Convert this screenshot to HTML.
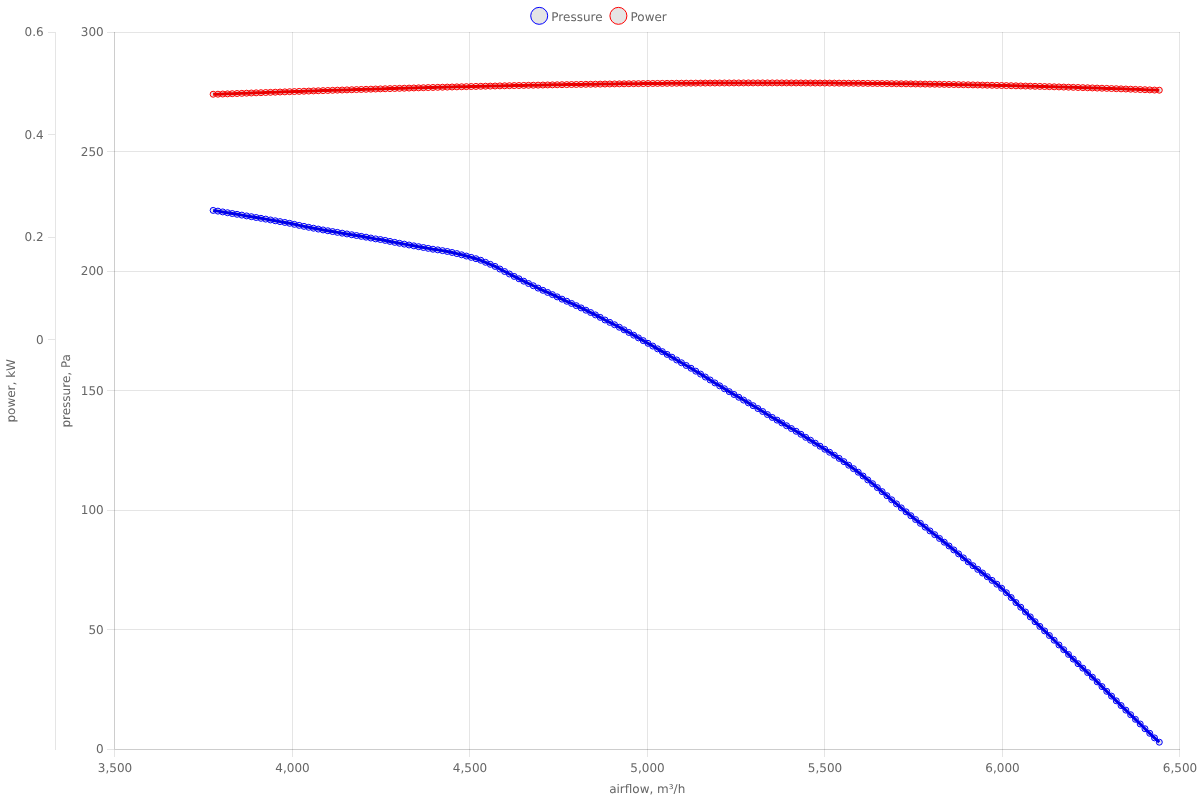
<!DOCTYPE html>
<html><head><meta charset="utf-8"><title>Fan curve</title>
<style>
html,body{margin:0;padding:0;background:#fff;}
svg{display:block;will-change:transform;}
text{font-family:"DejaVu Sans","Liberation Sans",sans-serif;font-size:12px;fill:#666;text-rendering:geometricPrecision;}
</style></head><body>
<svg width="1200" height="800" viewBox="0 0 1200 800">
<rect width="1200" height="800" fill="#fff"/>
<g stroke="rgba(0,0,0,0.1)" stroke-width="1" shape-rendering="crispEdges">
<line x1="114.5" y1="32.3" x2="114.5" y2="757.3"/><line x1="292.5" y1="32.3" x2="292.5" y2="757.3"/><line x1="469.5" y1="32.3" x2="469.5" y2="757.3"/><line x1="647.5" y1="32.3" x2="647.5" y2="757.3"/><line x1="824.5" y1="32.3" x2="824.5" y2="757.3"/><line x1="1002.5" y1="32.3" x2="1002.5" y2="757.3"/><line x1="1179.5" y1="32.3" x2="1179.5" y2="757.3"/><line x1="106.7" y1="749.5" x2="1179.7" y2="749.5"/><line x1="106.7" y1="629.5" x2="1179.7" y2="629.5"/><line x1="106.7" y1="510.5" x2="1179.7" y2="510.5"/><line x1="106.7" y1="390.5" x2="1179.7" y2="390.5"/><line x1="106.7" y1="271.5" x2="1179.7" y2="271.5"/><line x1="106.7" y1="151.5" x2="1179.7" y2="151.5"/><line x1="106.7" y1="32.5" x2="1179.7" y2="32.5"/><line x1="47.5" y1="32.5" x2="55.0" y2="32.5"/><line x1="47.5" y1="134.5" x2="55.0" y2="134.5"/><line x1="47.5" y1="237.5" x2="55.0" y2="237.5"/><line x1="47.5" y1="339.5" x2="55.0" y2="339.5"/>
</g>
<g stroke="rgba(0,0,0,0.1)" stroke-width="1" shape-rendering="crispEdges">
<line x1="114.5" y1="32.3" x2="114.5" y2="749.3"/><line x1="114.7" y1="749.5" x2="1179.7" y2="749.5"/><line x1="55.5" y1="32.3" x2="55.5" y2="750.3"/>
</g>
<g><text x="103.7" y="753.40" text-anchor="end">0</text><text x="103.7" y="633.90" text-anchor="end">50</text><text x="103.7" y="514.40" text-anchor="end">100</text><text x="103.7" y="394.90" text-anchor="end">150</text><text x="103.7" y="275.40" text-anchor="end">200</text><text x="103.7" y="155.90" text-anchor="end">250</text><text x="103.7" y="36.40" text-anchor="end">300</text><text x="43.6" y="36.40" text-anchor="end">0.6</text><text x="43.6" y="138.83" text-anchor="end">0.4</text><text x="43.6" y="241.26" text-anchor="end">0.2</text><text x="43.6" y="343.69" text-anchor="end">0</text><text x="115.0" y="772" text-anchor="middle">3,500</text><text x="292.5" y="772" text-anchor="middle">4,000</text><text x="470.0" y="772" text-anchor="middle">4,500</text><text x="647.5" y="772" text-anchor="middle">5,000</text><text x="825.0" y="772" text-anchor="middle">5,500</text><text x="1002.5" y="772" text-anchor="middle">6,000</text><text x="1180.0" y="772" text-anchor="middle">6,500</text><text x="647.2" y="793" text-anchor="middle">airflow, m³/h</text><text transform="translate(70.3 390.8) rotate(-90)" text-anchor="middle">pressure, Pa</text><text transform="translate(15.0 390.8) rotate(-90)" text-anchor="middle">power, kW</text><text x="551.3" y="20.8">Pressure</text><text x="630.5" y="20.8">Power</text></g>
<circle cx="539.2" cy="15.85" r="8.49" fill="rgba(0,0,0,0.1)" stroke="#00f" stroke-width="1"/>
<circle cx="618.4" cy="15.85" r="8.49" fill="rgba(0,0,0,0.1)" stroke="#f00" stroke-width="1"/>
<polyline fill="none" stroke="#f00" stroke-width="3" stroke-linejoin="round" points="213.15,94.24 217.93,94.20 222.71,94.03 227.49,93.86 232.26,93.69 237.04,93.52 241.82,93.35 246.60,93.18 251.38,93.01 256.16,92.84 260.94,92.68 265.71,92.51 270.49,92.35 275.27,92.19 280.05,92.02 284.83,91.86 289.61,91.70 294.39,91.55 299.16,91.39 303.94,91.23 308.72,91.08 313.50,90.92 318.28,90.77 323.06,90.62 327.83,90.47 332.61,90.32 337.39,90.17 342.17,90.02 346.95,89.88 351.73,89.73 356.51,89.59 361.28,89.45 366.06,89.30 370.84,89.16 375.62,89.03 380.40,88.89 385.18,88.75 389.96,88.62 394.73,88.48 399.51,88.35 404.29,88.22 409.07,88.09 413.85,87.96 418.63,87.84 423.41,87.71 428.18,87.59 432.96,87.46 437.74,87.34 442.52,87.22 447.30,87.10 452.08,86.99 456.86,86.87 461.63,86.75 466.41,86.64 471.19,86.53 475.97,86.42 480.75,86.31 485.53,86.20 490.31,86.10 495.08,86.00 499.86,85.89 504.64,85.79 509.42,85.69 514.20,85.59 518.98,85.50 523.75,85.40 528.53,85.31 533.31,85.22 538.09,85.13 542.87,85.04 547.65,84.95 552.43,84.87 557.20,84.78 561.98,84.70 566.76,84.62 571.54,84.54 576.32,84.47 581.10,84.39 585.88,84.32 590.65,84.25 595.43,84.18 600.21,84.11 604.99,84.04 609.77,83.98 614.55,83.92 619.33,83.85 624.10,83.80 628.88,83.74 633.66,83.68 638.44,83.63 643.22,83.58 648.00,83.53 652.78,83.48 657.55,83.43 662.33,83.39 667.11,83.35 671.89,83.30 676.67,83.27 681.45,83.23 686.23,83.19 691.00,83.16 695.78,83.13 700.56,83.10 705.34,83.07 710.12,83.05 714.90,83.03 719.67,83.01 724.45,82.99 729.23,82.97 734.01,82.95 738.79,82.94 743.57,82.93 748.35,82.92 753.12,82.91 757.90,82.91 762.68,82.91 767.46,82.91 772.24,82.91 777.02,82.91 781.80,82.92 786.57,82.93 791.35,82.94 796.13,82.95 800.91,82.96 805.69,82.98 810.47,83.00 815.25,83.02 820.02,83.04 824.80,83.06 829.58,83.09 834.36,83.12 839.14,83.15 843.92,83.18 848.70,83.22 853.47,83.26 858.25,83.30 863.03,83.34 867.81,83.38 872.59,83.43 877.37,83.48 882.14,83.53 886.92,83.58 891.70,83.63 896.48,83.69 901.26,83.75 906.04,83.81 910.82,83.87 915.59,83.94 920.37,84.01 925.15,84.08 929.93,84.15 934.71,84.22 939.49,84.30 944.27,84.38 949.04,84.46 953.82,84.54 958.60,84.63 963.38,84.72 968.16,84.80 972.94,84.90 977.72,84.99 982.49,85.09 987.27,85.19 992.05,85.29 996.83,85.39 1001.61,85.49 1006.39,85.60 1011.17,85.71 1015.94,85.82 1020.72,85.94 1025.50,86.06 1030.28,86.17 1035.06,86.30 1039.84,86.42 1044.62,86.54 1049.39,86.67 1054.17,86.80 1058.95,86.93 1063.73,87.07 1068.51,87.21 1073.29,87.35 1078.06,87.49 1082.84,87.63 1087.62,87.78 1092.40,87.93 1097.18,88.08 1101.96,88.23 1106.74,88.39 1111.51,88.54 1116.29,88.70 1121.07,88.87 1125.85,89.03 1130.63,89.20 1135.41,89.37 1140.19,89.54 1144.96,89.71 1149.74,89.89 1154.52,90.07 1159.30,90.20"/>
<g fill="rgba(0,0,0,0.1)" stroke="#f00" stroke-width="1"><circle cx="213.15" cy="94.24" r="3"/><circle cx="217.93" cy="94.20" r="3"/><circle cx="222.71" cy="94.03" r="3"/><circle cx="227.49" cy="93.86" r="3"/><circle cx="232.26" cy="93.69" r="3"/><circle cx="237.04" cy="93.52" r="3"/><circle cx="241.82" cy="93.35" r="3"/><circle cx="246.60" cy="93.18" r="3"/><circle cx="251.38" cy="93.01" r="3"/><circle cx="256.16" cy="92.84" r="3"/><circle cx="260.94" cy="92.68" r="3"/><circle cx="265.71" cy="92.51" r="3"/><circle cx="270.49" cy="92.35" r="3"/><circle cx="275.27" cy="92.19" r="3"/><circle cx="280.05" cy="92.02" r="3"/><circle cx="284.83" cy="91.86" r="3"/><circle cx="289.61" cy="91.70" r="3"/><circle cx="294.39" cy="91.55" r="3"/><circle cx="299.16" cy="91.39" r="3"/><circle cx="303.94" cy="91.23" r="3"/><circle cx="308.72" cy="91.08" r="3"/><circle cx="313.50" cy="90.92" r="3"/><circle cx="318.28" cy="90.77" r="3"/><circle cx="323.06" cy="90.62" r="3"/><circle cx="327.83" cy="90.47" r="3"/><circle cx="332.61" cy="90.32" r="3"/><circle cx="337.39" cy="90.17" r="3"/><circle cx="342.17" cy="90.02" r="3"/><circle cx="346.95" cy="89.88" r="3"/><circle cx="351.73" cy="89.73" r="3"/><circle cx="356.51" cy="89.59" r="3"/><circle cx="361.28" cy="89.45" r="3"/><circle cx="366.06" cy="89.30" r="3"/><circle cx="370.84" cy="89.16" r="3"/><circle cx="375.62" cy="89.03" r="3"/><circle cx="380.40" cy="88.89" r="3"/><circle cx="385.18" cy="88.75" r="3"/><circle cx="389.96" cy="88.62" r="3"/><circle cx="394.73" cy="88.48" r="3"/><circle cx="399.51" cy="88.35" r="3"/><circle cx="404.29" cy="88.22" r="3"/><circle cx="409.07" cy="88.09" r="3"/><circle cx="413.85" cy="87.96" r="3"/><circle cx="418.63" cy="87.84" r="3"/><circle cx="423.41" cy="87.71" r="3"/><circle cx="428.18" cy="87.59" r="3"/><circle cx="432.96" cy="87.46" r="3"/><circle cx="437.74" cy="87.34" r="3"/><circle cx="442.52" cy="87.22" r="3"/><circle cx="447.30" cy="87.10" r="3"/><circle cx="452.08" cy="86.99" r="3"/><circle cx="456.86" cy="86.87" r="3"/><circle cx="461.63" cy="86.75" r="3"/><circle cx="466.41" cy="86.64" r="3"/><circle cx="471.19" cy="86.53" r="3"/><circle cx="475.97" cy="86.42" r="3"/><circle cx="480.75" cy="86.31" r="3"/><circle cx="485.53" cy="86.20" r="3"/><circle cx="490.31" cy="86.10" r="3"/><circle cx="495.08" cy="86.00" r="3"/><circle cx="499.86" cy="85.89" r="3"/><circle cx="504.64" cy="85.79" r="3"/><circle cx="509.42" cy="85.69" r="3"/><circle cx="514.20" cy="85.59" r="3"/><circle cx="518.98" cy="85.50" r="3"/><circle cx="523.75" cy="85.40" r="3"/><circle cx="528.53" cy="85.31" r="3"/><circle cx="533.31" cy="85.22" r="3"/><circle cx="538.09" cy="85.13" r="3"/><circle cx="542.87" cy="85.04" r="3"/><circle cx="547.65" cy="84.95" r="3"/><circle cx="552.43" cy="84.87" r="3"/><circle cx="557.20" cy="84.78" r="3"/><circle cx="561.98" cy="84.70" r="3"/><circle cx="566.76" cy="84.62" r="3"/><circle cx="571.54" cy="84.54" r="3"/><circle cx="576.32" cy="84.47" r="3"/><circle cx="581.10" cy="84.39" r="3"/><circle cx="585.88" cy="84.32" r="3"/><circle cx="590.65" cy="84.25" r="3"/><circle cx="595.43" cy="84.18" r="3"/><circle cx="600.21" cy="84.11" r="3"/><circle cx="604.99" cy="84.04" r="3"/><circle cx="609.77" cy="83.98" r="3"/><circle cx="614.55" cy="83.92" r="3"/><circle cx="619.33" cy="83.85" r="3"/><circle cx="624.10" cy="83.80" r="3"/><circle cx="628.88" cy="83.74" r="3"/><circle cx="633.66" cy="83.68" r="3"/><circle cx="638.44" cy="83.63" r="3"/><circle cx="643.22" cy="83.58" r="3"/><circle cx="648.00" cy="83.53" r="3"/><circle cx="652.78" cy="83.48" r="3"/><circle cx="657.55" cy="83.43" r="3"/><circle cx="662.33" cy="83.39" r="3"/><circle cx="667.11" cy="83.35" r="3"/><circle cx="671.89" cy="83.30" r="3"/><circle cx="676.67" cy="83.27" r="3"/><circle cx="681.45" cy="83.23" r="3"/><circle cx="686.23" cy="83.19" r="3"/><circle cx="691.00" cy="83.16" r="3"/><circle cx="695.78" cy="83.13" r="3"/><circle cx="700.56" cy="83.10" r="3"/><circle cx="705.34" cy="83.07" r="3"/><circle cx="710.12" cy="83.05" r="3"/><circle cx="714.90" cy="83.03" r="3"/><circle cx="719.67" cy="83.01" r="3"/><circle cx="724.45" cy="82.99" r="3"/><circle cx="729.23" cy="82.97" r="3"/><circle cx="734.01" cy="82.95" r="3"/><circle cx="738.79" cy="82.94" r="3"/><circle cx="743.57" cy="82.93" r="3"/><circle cx="748.35" cy="82.92" r="3"/><circle cx="753.12" cy="82.91" r="3"/><circle cx="757.90" cy="82.91" r="3"/><circle cx="762.68" cy="82.91" r="3"/><circle cx="767.46" cy="82.91" r="3"/><circle cx="772.24" cy="82.91" r="3"/><circle cx="777.02" cy="82.91" r="3"/><circle cx="781.80" cy="82.92" r="3"/><circle cx="786.57" cy="82.93" r="3"/><circle cx="791.35" cy="82.94" r="3"/><circle cx="796.13" cy="82.95" r="3"/><circle cx="800.91" cy="82.96" r="3"/><circle cx="805.69" cy="82.98" r="3"/><circle cx="810.47" cy="83.00" r="3"/><circle cx="815.25" cy="83.02" r="3"/><circle cx="820.02" cy="83.04" r="3"/><circle cx="824.80" cy="83.06" r="3"/><circle cx="829.58" cy="83.09" r="3"/><circle cx="834.36" cy="83.12" r="3"/><circle cx="839.14" cy="83.15" r="3"/><circle cx="843.92" cy="83.18" r="3"/><circle cx="848.70" cy="83.22" r="3"/><circle cx="853.47" cy="83.26" r="3"/><circle cx="858.25" cy="83.30" r="3"/><circle cx="863.03" cy="83.34" r="3"/><circle cx="867.81" cy="83.38" r="3"/><circle cx="872.59" cy="83.43" r="3"/><circle cx="877.37" cy="83.48" r="3"/><circle cx="882.14" cy="83.53" r="3"/><circle cx="886.92" cy="83.58" r="3"/><circle cx="891.70" cy="83.63" r="3"/><circle cx="896.48" cy="83.69" r="3"/><circle cx="901.26" cy="83.75" r="3"/><circle cx="906.04" cy="83.81" r="3"/><circle cx="910.82" cy="83.87" r="3"/><circle cx="915.59" cy="83.94" r="3"/><circle cx="920.37" cy="84.01" r="3"/><circle cx="925.15" cy="84.08" r="3"/><circle cx="929.93" cy="84.15" r="3"/><circle cx="934.71" cy="84.22" r="3"/><circle cx="939.49" cy="84.30" r="3"/><circle cx="944.27" cy="84.38" r="3"/><circle cx="949.04" cy="84.46" r="3"/><circle cx="953.82" cy="84.54" r="3"/><circle cx="958.60" cy="84.63" r="3"/><circle cx="963.38" cy="84.72" r="3"/><circle cx="968.16" cy="84.80" r="3"/><circle cx="972.94" cy="84.90" r="3"/><circle cx="977.72" cy="84.99" r="3"/><circle cx="982.49" cy="85.09" r="3"/><circle cx="987.27" cy="85.19" r="3"/><circle cx="992.05" cy="85.29" r="3"/><circle cx="996.83" cy="85.39" r="3"/><circle cx="1001.61" cy="85.49" r="3"/><circle cx="1006.39" cy="85.60" r="3"/><circle cx="1011.17" cy="85.71" r="3"/><circle cx="1015.94" cy="85.82" r="3"/><circle cx="1020.72" cy="85.94" r="3"/><circle cx="1025.50" cy="86.06" r="3"/><circle cx="1030.28" cy="86.17" r="3"/><circle cx="1035.06" cy="86.30" r="3"/><circle cx="1039.84" cy="86.42" r="3"/><circle cx="1044.62" cy="86.54" r="3"/><circle cx="1049.39" cy="86.67" r="3"/><circle cx="1054.17" cy="86.80" r="3"/><circle cx="1058.95" cy="86.93" r="3"/><circle cx="1063.73" cy="87.07" r="3"/><circle cx="1068.51" cy="87.21" r="3"/><circle cx="1073.29" cy="87.35" r="3"/><circle cx="1078.06" cy="87.49" r="3"/><circle cx="1082.84" cy="87.63" r="3"/><circle cx="1087.62" cy="87.78" r="3"/><circle cx="1092.40" cy="87.93" r="3"/><circle cx="1097.18" cy="88.08" r="3"/><circle cx="1101.96" cy="88.23" r="3"/><circle cx="1106.74" cy="88.39" r="3"/><circle cx="1111.51" cy="88.54" r="3"/><circle cx="1116.29" cy="88.70" r="3"/><circle cx="1121.07" cy="88.87" r="3"/><circle cx="1125.85" cy="89.03" r="3"/><circle cx="1130.63" cy="89.20" r="3"/><circle cx="1135.41" cy="89.37" r="3"/><circle cx="1140.19" cy="89.54" r="3"/><circle cx="1144.96" cy="89.71" r="3"/><circle cx="1149.74" cy="89.89" r="3"/><circle cx="1154.52" cy="90.07" r="3"/><circle cx="1159.30" cy="90.20" r="3"/></g>
<polyline fill="none" stroke="#00f" stroke-width="3" stroke-linejoin="round" points="213.15,210.40 217.93,211.13 222.71,211.92 227.49,212.72 232.26,213.52 237.04,214.31 241.82,215.11 246.60,215.91 251.38,216.70 256.16,217.51 260.94,218.31 265.71,219.12 270.49,219.94 275.27,220.77 280.05,221.61 284.83,222.45 289.61,223.31 294.39,224.33 299.16,225.37 303.94,226.35 308.72,227.30 313.50,228.21 318.28,229.08 323.06,229.93 327.83,230.76 332.61,231.57 337.39,232.37 342.17,233.16 346.95,233.95 351.73,234.74 356.51,235.54 361.28,236.35 366.06,237.17 370.84,238.02 375.62,238.89 380.40,239.53 385.18,240.41 389.96,241.42 394.73,242.36 399.51,243.27 404.29,244.14 409.07,245.00 413.85,245.85 418.63,246.69 423.41,247.52 428.18,248.37 432.96,249.23 437.74,249.86 442.52,250.64 447.30,251.48 452.08,252.48 456.86,253.60 461.63,254.80 466.41,256.06 471.19,257.36 475.97,258.71 480.75,260.26 485.53,262.30 490.31,264.32 495.08,266.42 499.86,269.02 504.64,271.53 509.42,273.99 514.20,276.41 518.98,278.80 523.75,281.18 528.53,283.52 533.31,285.76 538.09,288.10 542.87,290.31 547.65,292.45 552.43,294.62 557.20,296.86 561.98,299.15 566.76,301.26 571.54,303.45 576.32,305.66 581.10,307.91 585.88,310.20 590.65,312.53 595.43,314.92 600.21,317.37 604.99,319.99 609.77,322.38 614.55,324.74 619.33,327.25 624.10,329.83 628.88,332.48 633.66,335.17 638.44,337.88 643.22,340.61 648.00,343.33 652.78,346.07 657.55,348.83 662.33,351.62 667.11,354.41 671.89,357.20 676.67,359.98 681.45,362.75 686.23,365.49 691.00,368.24 695.78,371.16 700.56,374.09 705.34,377.03 710.12,379.97 714.90,382.91 719.67,385.84 724.45,388.75 729.23,391.64 734.01,394.48 738.79,397.28 743.57,400.07 748.35,402.86 753.12,405.68 757.90,408.55 762.68,411.49 767.46,414.57 772.24,417.44 777.02,420.12 781.80,422.90 786.57,425.74 791.35,428.54 796.13,431.28 800.91,434.26 805.69,437.35 810.47,440.23 815.25,443.19 820.02,446.20 824.80,449.24 829.58,452.26 834.36,455.29 839.14,458.39 843.92,461.65 848.70,465.21 853.47,468.64 858.25,472.23 863.03,476.00 867.81,479.91 872.59,483.68 877.37,487.61 882.14,491.62 886.92,495.70 891.70,499.79 896.48,503.87 901.26,507.89 906.04,511.83 910.82,515.71 915.59,519.55 920.37,523.35 925.15,527.14 929.93,530.91 934.71,534.67 939.49,538.44 944.27,542.21 949.04,545.98 953.82,549.92 958.60,553.89 963.38,557.87 968.16,561.82 972.94,565.70 977.72,569.39 982.49,573.01 987.27,576.69 992.05,580.38 996.83,584.20 1001.61,588.26 1006.39,592.73 1011.17,597.57 1015.94,602.55 1020.72,607.22 1025.50,612.02 1030.28,616.90 1035.06,621.73 1039.84,626.43 1044.62,630.91 1049.39,635.54 1054.17,640.23 1058.95,644.96 1063.73,649.70 1068.51,654.43 1073.29,659.11 1078.06,663.70 1082.84,668.17 1087.62,672.61 1092.40,677.19 1097.18,681.87 1101.96,686.59 1106.74,691.35 1111.51,696.10 1116.29,700.84 1121.07,705.56 1125.85,710.14 1130.63,714.72 1135.41,719.32 1140.19,723.98 1144.96,728.76 1149.74,733.32 1154.52,737.88 1159.30,742.20"/>
<g fill="rgba(0,0,0,0.1)" stroke="#00f" stroke-width="1"><circle cx="213.15" cy="210.40" r="3"/><circle cx="217.93" cy="211.13" r="3"/><circle cx="222.71" cy="211.92" r="3"/><circle cx="227.49" cy="212.72" r="3"/><circle cx="232.26" cy="213.52" r="3"/><circle cx="237.04" cy="214.31" r="3"/><circle cx="241.82" cy="215.11" r="3"/><circle cx="246.60" cy="215.91" r="3"/><circle cx="251.38" cy="216.70" r="3"/><circle cx="256.16" cy="217.51" r="3"/><circle cx="260.94" cy="218.31" r="3"/><circle cx="265.71" cy="219.12" r="3"/><circle cx="270.49" cy="219.94" r="3"/><circle cx="275.27" cy="220.77" r="3"/><circle cx="280.05" cy="221.61" r="3"/><circle cx="284.83" cy="222.45" r="3"/><circle cx="289.61" cy="223.31" r="3"/><circle cx="294.39" cy="224.33" r="3"/><circle cx="299.16" cy="225.37" r="3"/><circle cx="303.94" cy="226.35" r="3"/><circle cx="308.72" cy="227.30" r="3"/><circle cx="313.50" cy="228.21" r="3"/><circle cx="318.28" cy="229.08" r="3"/><circle cx="323.06" cy="229.93" r="3"/><circle cx="327.83" cy="230.76" r="3"/><circle cx="332.61" cy="231.57" r="3"/><circle cx="337.39" cy="232.37" r="3"/><circle cx="342.17" cy="233.16" r="3"/><circle cx="346.95" cy="233.95" r="3"/><circle cx="351.73" cy="234.74" r="3"/><circle cx="356.51" cy="235.54" r="3"/><circle cx="361.28" cy="236.35" r="3"/><circle cx="366.06" cy="237.17" r="3"/><circle cx="370.84" cy="238.02" r="3"/><circle cx="375.62" cy="238.89" r="3"/><circle cx="380.40" cy="239.53" r="3"/><circle cx="385.18" cy="240.41" r="3"/><circle cx="389.96" cy="241.42" r="3"/><circle cx="394.73" cy="242.36" r="3"/><circle cx="399.51" cy="243.27" r="3"/><circle cx="404.29" cy="244.14" r="3"/><circle cx="409.07" cy="245.00" r="3"/><circle cx="413.85" cy="245.85" r="3"/><circle cx="418.63" cy="246.69" r="3"/><circle cx="423.41" cy="247.52" r="3"/><circle cx="428.18" cy="248.37" r="3"/><circle cx="432.96" cy="249.23" r="3"/><circle cx="437.74" cy="249.86" r="3"/><circle cx="442.52" cy="250.64" r="3"/><circle cx="447.30" cy="251.48" r="3"/><circle cx="452.08" cy="252.48" r="3"/><circle cx="456.86" cy="253.60" r="3"/><circle cx="461.63" cy="254.80" r="3"/><circle cx="466.41" cy="256.06" r="3"/><circle cx="471.19" cy="257.36" r="3"/><circle cx="475.97" cy="258.71" r="3"/><circle cx="480.75" cy="260.26" r="3"/><circle cx="485.53" cy="262.30" r="3"/><circle cx="490.31" cy="264.32" r="3"/><circle cx="495.08" cy="266.42" r="3"/><circle cx="499.86" cy="269.02" r="3"/><circle cx="504.64" cy="271.53" r="3"/><circle cx="509.42" cy="273.99" r="3"/><circle cx="514.20" cy="276.41" r="3"/><circle cx="518.98" cy="278.80" r="3"/><circle cx="523.75" cy="281.18" r="3"/><circle cx="528.53" cy="283.52" r="3"/><circle cx="533.31" cy="285.76" r="3"/><circle cx="538.09" cy="288.10" r="3"/><circle cx="542.87" cy="290.31" r="3"/><circle cx="547.65" cy="292.45" r="3"/><circle cx="552.43" cy="294.62" r="3"/><circle cx="557.20" cy="296.86" r="3"/><circle cx="561.98" cy="299.15" r="3"/><circle cx="566.76" cy="301.26" r="3"/><circle cx="571.54" cy="303.45" r="3"/><circle cx="576.32" cy="305.66" r="3"/><circle cx="581.10" cy="307.91" r="3"/><circle cx="585.88" cy="310.20" r="3"/><circle cx="590.65" cy="312.53" r="3"/><circle cx="595.43" cy="314.92" r="3"/><circle cx="600.21" cy="317.37" r="3"/><circle cx="604.99" cy="319.99" r="3"/><circle cx="609.77" cy="322.38" r="3"/><circle cx="614.55" cy="324.74" r="3"/><circle cx="619.33" cy="327.25" r="3"/><circle cx="624.10" cy="329.83" r="3"/><circle cx="628.88" cy="332.48" r="3"/><circle cx="633.66" cy="335.17" r="3"/><circle cx="638.44" cy="337.88" r="3"/><circle cx="643.22" cy="340.61" r="3"/><circle cx="648.00" cy="343.33" r="3"/><circle cx="652.78" cy="346.07" r="3"/><circle cx="657.55" cy="348.83" r="3"/><circle cx="662.33" cy="351.62" r="3"/><circle cx="667.11" cy="354.41" r="3"/><circle cx="671.89" cy="357.20" r="3"/><circle cx="676.67" cy="359.98" r="3"/><circle cx="681.45" cy="362.75" r="3"/><circle cx="686.23" cy="365.49" r="3"/><circle cx="691.00" cy="368.24" r="3"/><circle cx="695.78" cy="371.16" r="3"/><circle cx="700.56" cy="374.09" r="3"/><circle cx="705.34" cy="377.03" r="3"/><circle cx="710.12" cy="379.97" r="3"/><circle cx="714.90" cy="382.91" r="3"/><circle cx="719.67" cy="385.84" r="3"/><circle cx="724.45" cy="388.75" r="3"/><circle cx="729.23" cy="391.64" r="3"/><circle cx="734.01" cy="394.48" r="3"/><circle cx="738.79" cy="397.28" r="3"/><circle cx="743.57" cy="400.07" r="3"/><circle cx="748.35" cy="402.86" r="3"/><circle cx="753.12" cy="405.68" r="3"/><circle cx="757.90" cy="408.55" r="3"/><circle cx="762.68" cy="411.49" r="3"/><circle cx="767.46" cy="414.57" r="3"/><circle cx="772.24" cy="417.44" r="3"/><circle cx="777.02" cy="420.12" r="3"/><circle cx="781.80" cy="422.90" r="3"/><circle cx="786.57" cy="425.74" r="3"/><circle cx="791.35" cy="428.54" r="3"/><circle cx="796.13" cy="431.28" r="3"/><circle cx="800.91" cy="434.26" r="3"/><circle cx="805.69" cy="437.35" r="3"/><circle cx="810.47" cy="440.23" r="3"/><circle cx="815.25" cy="443.19" r="3"/><circle cx="820.02" cy="446.20" r="3"/><circle cx="824.80" cy="449.24" r="3"/><circle cx="829.58" cy="452.26" r="3"/><circle cx="834.36" cy="455.29" r="3"/><circle cx="839.14" cy="458.39" r="3"/><circle cx="843.92" cy="461.65" r="3"/><circle cx="848.70" cy="465.21" r="3"/><circle cx="853.47" cy="468.64" r="3"/><circle cx="858.25" cy="472.23" r="3"/><circle cx="863.03" cy="476.00" r="3"/><circle cx="867.81" cy="479.91" r="3"/><circle cx="872.59" cy="483.68" r="3"/><circle cx="877.37" cy="487.61" r="3"/><circle cx="882.14" cy="491.62" r="3"/><circle cx="886.92" cy="495.70" r="3"/><circle cx="891.70" cy="499.79" r="3"/><circle cx="896.48" cy="503.87" r="3"/><circle cx="901.26" cy="507.89" r="3"/><circle cx="906.04" cy="511.83" r="3"/><circle cx="910.82" cy="515.71" r="3"/><circle cx="915.59" cy="519.55" r="3"/><circle cx="920.37" cy="523.35" r="3"/><circle cx="925.15" cy="527.14" r="3"/><circle cx="929.93" cy="530.91" r="3"/><circle cx="934.71" cy="534.67" r="3"/><circle cx="939.49" cy="538.44" r="3"/><circle cx="944.27" cy="542.21" r="3"/><circle cx="949.04" cy="545.98" r="3"/><circle cx="953.82" cy="549.92" r="3"/><circle cx="958.60" cy="553.89" r="3"/><circle cx="963.38" cy="557.87" r="3"/><circle cx="968.16" cy="561.82" r="3"/><circle cx="972.94" cy="565.70" r="3"/><circle cx="977.72" cy="569.39" r="3"/><circle cx="982.49" cy="573.01" r="3"/><circle cx="987.27" cy="576.69" r="3"/><circle cx="992.05" cy="580.38" r="3"/><circle cx="996.83" cy="584.20" r="3"/><circle cx="1001.61" cy="588.26" r="3"/><circle cx="1006.39" cy="592.73" r="3"/><circle cx="1011.17" cy="597.57" r="3"/><circle cx="1015.94" cy="602.55" r="3"/><circle cx="1020.72" cy="607.22" r="3"/><circle cx="1025.50" cy="612.02" r="3"/><circle cx="1030.28" cy="616.90" r="3"/><circle cx="1035.06" cy="621.73" r="3"/><circle cx="1039.84" cy="626.43" r="3"/><circle cx="1044.62" cy="630.91" r="3"/><circle cx="1049.39" cy="635.54" r="3"/><circle cx="1054.17" cy="640.23" r="3"/><circle cx="1058.95" cy="644.96" r="3"/><circle cx="1063.73" cy="649.70" r="3"/><circle cx="1068.51" cy="654.43" r="3"/><circle cx="1073.29" cy="659.11" r="3"/><circle cx="1078.06" cy="663.70" r="3"/><circle cx="1082.84" cy="668.17" r="3"/><circle cx="1087.62" cy="672.61" r="3"/><circle cx="1092.40" cy="677.19" r="3"/><circle cx="1097.18" cy="681.87" r="3"/><circle cx="1101.96" cy="686.59" r="3"/><circle cx="1106.74" cy="691.35" r="3"/><circle cx="1111.51" cy="696.10" r="3"/><circle cx="1116.29" cy="700.84" r="3"/><circle cx="1121.07" cy="705.56" r="3"/><circle cx="1125.85" cy="710.14" r="3"/><circle cx="1130.63" cy="714.72" r="3"/><circle cx="1135.41" cy="719.32" r="3"/><circle cx="1140.19" cy="723.98" r="3"/><circle cx="1144.96" cy="728.76" r="3"/><circle cx="1149.74" cy="733.32" r="3"/><circle cx="1154.52" cy="737.88" r="3"/><circle cx="1159.30" cy="742.20" r="3"/></g>
</svg>
</body></html>
